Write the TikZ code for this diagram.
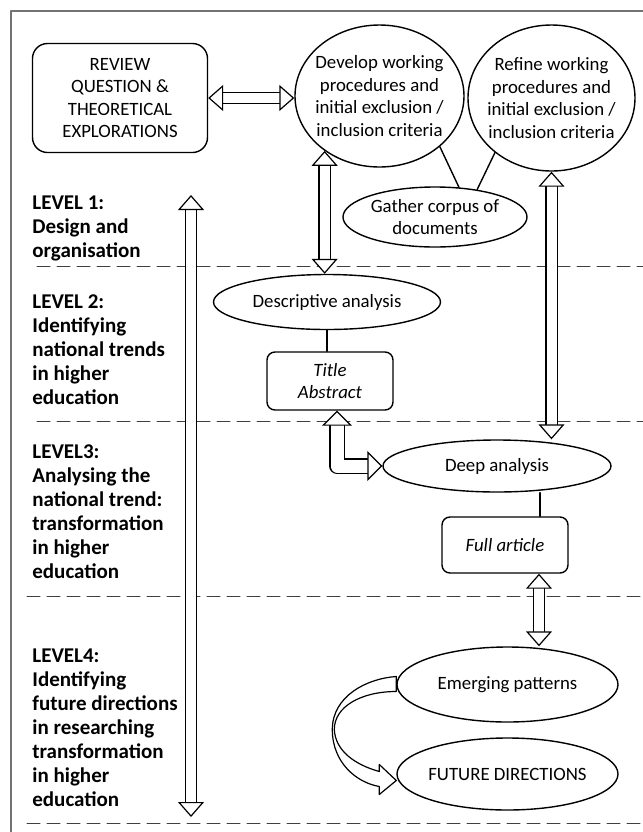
\documentclass[tikz,border=0pt]{standalone}
\usepackage{fontspec}
\setmainfont{Carlito}
\usetikzlibrary{arrows.meta,calc,positioning,shapes.geometric}

\begin{document}
\begin{tikzpicture}[x=0.5pt, y=-0.5pt, line cap=round, line join=round,
		every node/.style={font=\fontsize{9.4}{11.25}\selectfont},
		bubble/.style={ellipse, draw, line width=0.7pt, inner sep=0pt},
		card/.style={rectangle, draw, line width=0.7pt, rounded corners=4pt, inner sep=0pt, align=center},
		lvl/.style={align=left, inner sep=0pt, anchor=base west, font=\fontsize{10.5}{12}\selectfont\bfseries},
		hollow/.tip={Triangle[length=7.5pt, width=13pt, fill=white, line width=0.6pt]},
		hollowbig/.tip={Triangle[length=7.5pt, width=15pt, fill=white, line width=0.6pt]},
		fat/.style={double, double distance=5pt, line width=0.6pt, hollow-hollow},
		fatbig/.style={double, double distance=6.5pt, line width=0.6pt, hollowbig-hollowbig},
		sep/.style={black!75, line width=0.5pt, dash pattern=on 6.5pt off 3.5pt}]
	
	\useasboundingbox (0,0) rectangle (643,832);
	
	% frame
	\draw[black!55, line width=0.8pt] (11,832) -- (11,11) -- (643,11);
	
	% level separators
	\draw[sep] (37,266) -- (643,266);
	\draw[sep] (37,421) -- (643,421);
	\draw[sep] (27,596) -- (643,596);
	\draw[sep] (27,823) -- (643,823);
	
	% level labels (placed at their last baseline)
	\node[lvl] (lvA) at (32,257) {LEVEL 1:\\Design and\\organisation};
	\node[lvl] (lvB) at (32,404) {LEVEL 2:\\Identifying\\national trends\\in higher\\education};
	\node[lvl] (lvC) at (32,578) {LEVEL3:\\Analysing the\\national trend:\\transformation\\in higher\\education};
	\node[lvl] (lvD) at (32,806) {LEVEL4:\\Identifying\\future directions\\in researching\\transformation\\in higher\\education};
	
	% level 1
	\node[card, rounded corners=7.5pt, minimum width=87.5pt, minimum height=54.5pt] (review) at (120,98)
		{REVIEW\\QUESTION \&\\THEORETICAL\\EXPLORATIONS};
	\node[bubble, minimum width=84.5pt, minimum height=71pt,
		label={[align=center]center:Develop working\\procedures and\\initial exclusion /\\inclusion criteria}] (dev) at (379.5,96) {};
	\node[bubble, minimum width=83.5pt, minimum height=73pt,
		label={[align=center]center:Refine working\\procedures and\\initial exclusion /\\inclusion criteria}] (ref) at (551.5,98) {};
	\node[bubble, minimum width=92pt, minimum height=30pt,
		label={[align=center]center:Gather corpus of\\documents}] (gather) at (435,217) {};
	
	% level 2
	\node[bubble, minimum width=113.5pt, minimum height=27.5pt,
		label=center:Descriptive analysis] (desc) at (327,302) {};
	\node[card, minimum width=63pt, minimum height=29pt, font=\fontsize{9.4}{11.25}\selectfont\itshape] (title) at (330,381) {Title\\Abstract};
	
	% level 3
	\node[bubble, minimum width=114pt, minimum height=26pt,
		label=center:Deep analysis] (deep) at (497,466) {};
	\node[card, minimum width=63pt, minimum height=28pt, font=\fontsize{9.4}{11.25}\selectfont\itshape] (full) at (505,545) {Full article};
	
	% level 4
	\node[bubble, minimum width=110.5pt, minimum height=37.5pt,
		label=center:Emerging patterns] (emerg) at (507.5,684.5) {};
	\node[bubble, minimum width=110.5pt, minimum height=36pt,
		label=center:FUTURE DIRECTIONS] (future) at (507.5,774) {};
	
	% plain links
	\draw[line width=0.7pt] (dev.-40) -- (gather.51);
	\draw[line width=0.7pt] (ref.-136) -- (gather.33);
	\draw[line width=0.7pt] (desc.south) -- (desc.south |- title.north);
	\draw[line width=0.7pt] ([xshift=17.5pt]full.north) -- ([xshift=17.5pt]full.north |- deep.south);
	
	% hollow arrows
	\coordinate (topA) at (191,195);
	\coordinate (botA) at (191,817);
	\draw[fat] (topA) -- (botA);
	\draw[fat] (review.east) -- (review.east -| dev.west);
	\draw[fat] (dev.225) -- (dev.225 |- desc.north);
	\draw[fat] (ref.south) -- (ref.south |- deep.north);
	\draw[fatbig] ([xshift=3.5pt]title.south) |- (deep.west);
	\draw[fat] ([xshift=17pt]full.south) -- ([xshift=17pt]full.south |- emerg.north);
	
	% curved band arrow
	\begin{scope}[shift={(emerg.west)}]
		\draw[line width=0.6pt, fill=white] (0,-8) .. controls (-30,-6) and (-64,12) .. (-64,45)
			.. controls (-64,78) and (-40,98) .. (-17,102) -- (-17,110) -- (0,96) -- (-17,80) -- (-17,87)
			.. controls (-42,80) and (-61,66) .. (-62,45)
			.. controls (-62,22) and (-35,7) .. (0,7) -- cycle;
	\end{scope}
	
\end{tikzpicture}
\end{document}
